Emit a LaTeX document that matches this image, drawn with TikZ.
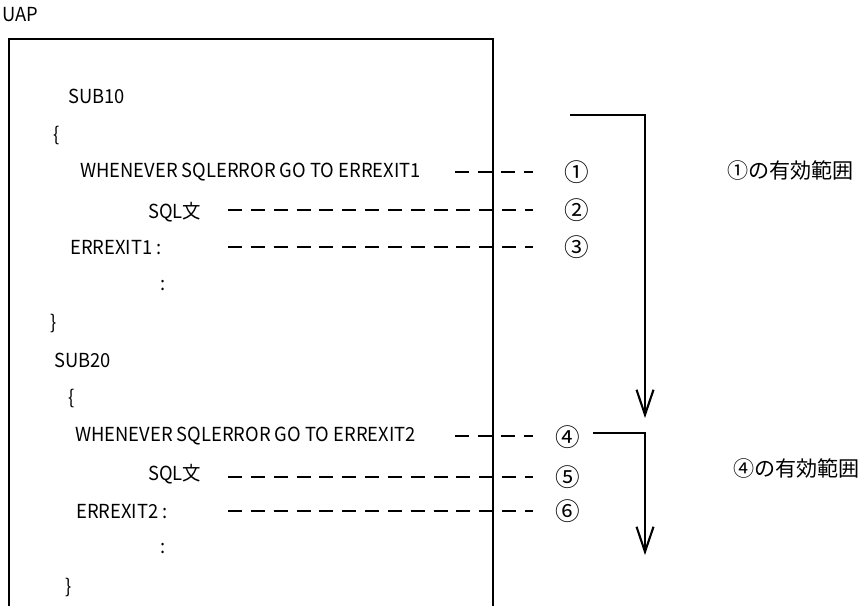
\documentclass[tikz,border=0pt]{standalone}
\usepackage{fontspec}
\setmainfont{Noto Sans CJK JP}
\newfontfamily\codefont[FakeStretch=0.95]{Noto Sans CJK JP}
\usetikzlibrary{arrows.meta,calc}
\tikzset{
  code/.style={anchor=west,inner sep=0pt,font=\codefont\fontsize{11}{13}\selectfont},
  num/.style={inner sep=0pt,font=\fontsize{14}{16}\selectfont},
  lead/.style={line width=1.2pt,dash pattern=on 8pt off 5pt},
  rng/.style={line width=1.2pt,-{Straight Barb[length=5mm,width=3.4mm]}},
  lbl/.style={anchor=west,inner sep=0pt,font=\fontsize{12}{14}\selectfont},
}
\begin{document}
\begin{tikzpicture}[x=0.02cm,y=-0.02cm]
\useasboundingbox (0,0) rectangle (861,606);

% program frame
\node[code] (uap) at (2,15) {UAP};
\draw[line width=1.2pt] (9,606) -- (9,39) -- (493,39) -- (493,606);

\coordinate (ls) at (455,0);
\coordinate (lm) at (228,0);
\coordinate (le) at (533,0);

% SUB10
\node[code] (s10) at (68,96) {SUB10};
\node[code] (o10) at (53,135) {\{};
\node[code] (w1) at (80,172) {WHENEVER SQLERROR GO TO ERREXIT1};
\node[code] (q1) at (148,212) {SQL文};
\node[code] (e1) at (70,248) {ERREXIT1 :};
\node[code] (c1) at (160,285) {:};
\node[code] (x10) at (50,323) {\}};

% SUB20
\node[code] (s20) at (54,360) {SUB20};
\node[code] (o20) at (68,398) {\{};
\node[code] (w2) at (75,436) {WHENEVER SQLERROR GO TO ERREXIT2};
\node[code] (q2) at (148,474) {SQL文};
\node[code] (e2) at (76,512) {ERREXIT2 :};
\node[code] (c2) at (160,548) {:};
\node[code] (x20) at (65,587) {\}};

% numbers
\node[num] (n1) at (577,172) {①};
\node[num] (n2) at (577,210) {②};
\node[num] (n3) at (577,247) {③};
\node[num] (n4) at (568,437) {④};
\node[num] (n5) at (568,477) {⑤};
\node[num] (n6) at (568,511) {⑥};

% leaders
\draw[lead] (w1 -| ls) -- (w1 -| le);
\draw[lead] (n2 -| lm) -- (n2 -| le);
\draw[lead] (n3 -| lm) -- (n3 -| le);
\draw[lead] (w2 -| ls) -- (w2 -| le);
\draw[lead] (n5 -| lm) -- (n5 -| le);
\draw[lead] (n6 -| lm) -- (n6 -| le);

% ranges
\coordinate (r1) at (570,115);
\coordinate (r1e) at (645,418);
\draw[rng] (r1) -- (r1 -| r1e) -- (r1e);
\coordinate (r4) at (593,433);
\coordinate (r4e) at (645,555);
\draw[rng] (r4) -- (r4 -| r4e) -- (r4e);

\node[lbl] (v1) at (727,170) {①の有効範囲};
\node[lbl] (v4) at (733,468) {④の有効範囲};

\end{tikzpicture}
\end{document}
